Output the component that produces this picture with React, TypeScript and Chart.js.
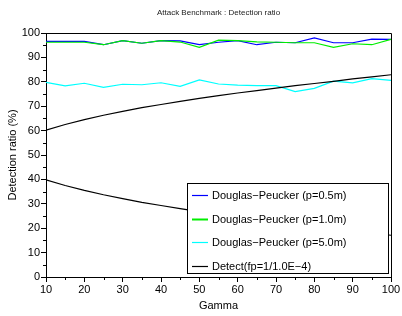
import React, { useEffect, useRef } from 'react';
import { Chart, registerables } from 'chart.js';

Chart.register(...registerables);

const chartTitle = 'Attack Benchmark : Detection ratio';
const xTitle = 'Gamma';
const yTitle = 'Detection ratio (%)';

const gammas = [10, 15, 20, 25, 30, 35, 40, 45, 50, 55, 60, 65, 70, 75, 80, 85, 90, 95, 100];
const dp05 = [96.6, 96.6, 96.6, 95.2, 96.9, 95.8, 96.9, 96.8, 95.2, 96.2, 96.9, 95.2, 96.2, 96.0, 98.0, 96.0, 96.0, 97.5, 97.4];
const dp10 = [96.2, 96.2, 96.2, 95.2, 96.9, 95.8, 96.9, 96.3, 94.1, 97.1, 96.9, 96.4, 96.2, 96.0, 96.0, 94.1, 95.6, 95.2, 97.4];
const dp50 = [79.8, 78.3, 79.4, 77.7, 79.0, 78.8, 79.6, 78.1, 80.8, 79.1, 78.6, 78.4, 78.4, 76.0, 77.3, 80.3, 79.6, 81.3, 80.6];
const detectUpper = [60.2, 62.5, 64.5, 66.3, 67.9, 69.4, 70.7, 72.0, 73.2, 74.3, 75.4, 76.4, 77.4, 78.4, 79.3, 80.2, 81.2, 82.0, 82.9];
const detectLower = [39.8, 37.5, 35.5, 33.7, 32.1, 30.6, 29.3, 28.0, 26.8, 25.7, 24.6, 23.6, 22.6, 21.6, 20.7, 19.8, 18.8, 18.0, 17.1];

const legendLabels = [
  'Douglas\u2212Peucker (p=0.5m)',
  'Douglas\u2212Peucker (p=1.0m)',
  'Douglas\u2212Peucker (p=5.0m)',
  'Detect(fp=1/1.0E\u22124)',
];

const FONT = "'Liberation Sans', Arial, Helvetica, sans-serif";
const colorBlue = '#0000ff';
const colorGreen = '#00ee00';
const colorCyan = '#00ffff';
const colorBlack = '#000000';
const legendColors = [colorBlue, colorGreen, colorCyan, colorBlack];

const toPoints = (ys: number[]) => gammas.map((g, i) => ({ x: g, y: ys[i] }));

const decorPlugin = {
  id: 'decor',
  afterDraw(chart: any) {
    const { ctx, chartArea } = chart;
    const { left, right, top, bottom } = chartArea;
    const xs = chart.scales.x;
    const ys = chart.scales.y;
    ctx.save();
    ctx.strokeStyle = '#000';
    ctx.lineWidth = 1;
    // top and right frame
    ctx.beginPath();
    ctx.moveTo(Math.round(left) + 0.5, Math.round(top) + 0.5);
    ctx.lineTo(Math.round(right) + 0.5, Math.round(top) + 0.5);
    ctx.lineTo(Math.round(right) + 0.5, Math.round(bottom) + 0.5);
    ctx.stroke();
    // minor ticks
    ctx.beginPath();
    for (let v = 15; v < 100; v += 10) {
      const px = Math.round(xs.getPixelForValue(v)) + 0.5;
      ctx.moveTo(px, Math.round(bottom));
      ctx.lineTo(px, Math.round(bottom) + 3);
    }
    for (let v = 5; v < 100; v += 10) {
      const py = Math.round(ys.getPixelForValue(v)) + 0.5;
      ctx.moveTo(Math.round(left), py);
      ctx.lineTo(Math.round(left) - 3, py);
    }
    ctx.stroke();

    // title
    ctx.fillStyle = '#222';
    ctx.font = `8px ${FONT}`;
    ctx.textAlign = 'center';
    ctx.textBaseline = 'middle';
    ctx.fillText(chartTitle, (left + right) / 2, 13);

    // legend
    const bw = 201;
    const bh = 90;
    const bx = Math.round(right) - 204;
    const by = Math.round(bottom) - 94;
    ctx.fillStyle = '#fff';
    ctx.fillRect(bx, by, bw, bh);
    ctx.strokeStyle = '#000';
    ctx.strokeRect(bx + 0.5, by + 0.5, bw, bh);
    ctx.font = `11px ${FONT}`;
    ctx.textAlign = 'left';
    ctx.textBaseline = 'middle';
    legendLabels.forEach((lab, i) => {
      const yy = Math.round(by + 12 + i * 23.7) + 0.5;
      ctx.strokeStyle = legendColors[i];
      ctx.lineWidth = i === 1 ? 2 : 1.2;
      ctx.beginPath();
      ctx.moveTo(bx + 5, yy);
      ctx.lineTo(bx + 21, yy);
      ctx.stroke();
      ctx.fillStyle = '#000';
      ctx.fillText(lab, bx + 25, yy);
    });
    ctx.restore();
  },
};

export default function App() {
  const ref = useRef<HTMLCanvasElement | null>(null);

  useEffect(() => {
    if (!ref.current) return;
    const lineCommon = { pointRadius: 0, borderWidth: 1.2, tension: 0, fill: false };
    const chart = new Chart(ref.current, {
      type: 'line',
      data: {
        datasets: [
          { ...lineCommon, label: legendLabels[0], data: toPoints(dp05), borderColor: colorBlue, order: 3 },
          { ...lineCommon, label: legendLabels[1], data: toPoints(dp10), borderColor: colorGreen, order: 2 },
          { ...lineCommon, label: legendLabels[2], data: toPoints(dp50), borderColor: colorCyan, order: 4 },
          { ...lineCommon, label: legendLabels[3], data: toPoints(detectUpper), borderColor: colorBlack, order: 1 },
          { ...lineCommon, label: legendLabels[3], data: toPoints(detectLower), borderColor: colorBlack, order: 1 },
        ],
      },
      options: {
        responsive: false,
        animation: false,
        layout: { padding: { top: 33, right: 11, left: 0, bottom: 0 } },
        plugins: { legend: { display: false }, tooltip: { enabled: false }, title: { display: false } },
        scales: {
          x: {
            type: 'linear',
            min: 10,
            max: 100,
            afterFit: (s: any) => { s.height = 39; },
            ticks: { stepSize: 10, color: '#000', padding: 1, font: { family: FONT, size: 11 }, maxRotation: 0 },
            grid: { display: true, drawOnChartArea: false, drawTicks: true, tickLength: 5, color: '#000' },
            border: { display: true, color: '#000', width: 1 },
            title: { display: true, text: xTitle, color: '#000', font: { family: FONT, size: 11 }, padding: { top: 0, bottom: 3 } },
          },
          y: {
            type: 'linear',
            min: 0,
            max: 100,
            afterFit: (s: any) => { s.width = 46; },
            ticks: { stepSize: 10, color: '#000', padding: 1, font: { family: FONT, size: 11 } },
            grid: { display: true, drawOnChartArea: false, drawTicks: true, tickLength: 5, color: '#000' },
            border: { display: true, color: '#000', width: 1 },
            title: { display: true, text: yTitle, color: '#000', font: { family: FONT, size: 11 }, padding: { top: 6, bottom: 0 } },
          },
        },
      },
      plugins: [decorPlugin],
    });
    return () => chart.destroy();
  }, []);

  return (
    <div style={{ position: 'absolute', left: 0, top: 0, width: 402, height: 316, background: '#fff' }}>
      <canvas ref={ref} width={402} height={316} style={{ display: 'block' }} />
    </div>
  );
}
